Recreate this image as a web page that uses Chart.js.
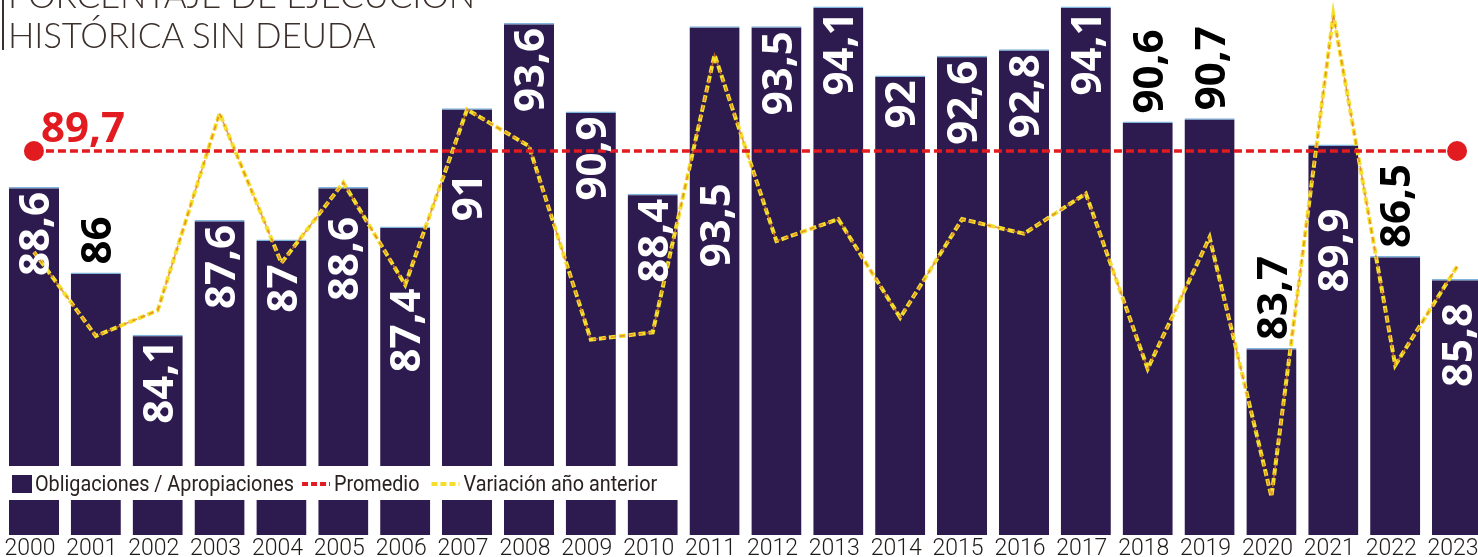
<!DOCTYPE html>
<html>
<head>
<meta charset="utf-8">
<script src="https://cdn.jsdelivr.net/npm/chart.js@4.4.1/dist/chart.umd.min.js"></script>
<style>
  html, body { margin: 0; padding: 0; background: #ffffff; overflow: hidden; width: 1478px; height: 557px; }
  #wrap { position: relative; width: 1478px; height: 557px; overflow: hidden; background: #fff; }
  #c { position: absolute; left: 0; top: 0; }
  #title { position: absolute; left: 8px; top: -26px; font-family: Lato, sans-serif; font-weight: 300;
           font-size: 35px; line-height: 40px; color: #3b302b; white-space: nowrap; letter-spacing: -0.2px; }
  #tbar { position: absolute; left: 2px; top: 0; width: 2px; height: 50px; background: #3b302b; }
</style>
</head>
<body>
<div id="wrap">
  <canvas id="c" width="1490" height="557" style="width:1490px;height:557px"></canvas>
  <div id="tbar"></div>
  <div id="title">PORCENTAJE DE EJECUCIÓN<br>HISTÓRICA SIN DEUDA</div>
</div>
<script>
// ---- data ----
const years = ['2000','2001','2002','2003','2004','2005','2006','2007','2008','2009','2010','2011',
               '2012','2013','2014','2015','2016','2017','2018','2019','2020','2021','2022','2023'];
const ejecucion = [88.6, 86, 84.1, 87.6, 87, 88.6, 87.4, 91, 93.6, 90.9, 88.4, 93.5,
                   93.5, 94.1, 92, 92.6, 92.8, 94.1, 90.6, 90.7, 83.7, 89.9, 86.5, 85.8];
const variacion = [-0.3, -2.6, -1.9, 3.5, -0.6, 1.6, -1.2, 3.6, 2.6, -2.7, -2.5, 5.1,
                   0, 0.6, -2.1, 0.6, 0.2, 1.3, -3.5, 0.1, -7.0, 6.2, -3.4, -0.7];
const promedio = 89.7;
const seriesNames = ['Obligaciones / Apropiaciones', 'Promedio', 'Variación año anterior'];

// ---- label placement config ----
const outsideLabels = ['2001','2018','2019','2020','2022'];
const labelGap = { '2004': 25, '2005': 30, '2006': 62, '2007': 65, '2011': 157, '2021': 64, '2023': 24 };

const BAR = '#2d1b50';
const RED = '#e11b1f';
const YEL = '#f3df2c';

const valueLabels = {
  id: 'valueLabels',
  afterDatasetsDraw(chart) {
    const ctx = chart.ctx;
    const meta = chart.getDatasetMeta(3);
    const fs = 42;
    ctx.save();
    ctx.font = 'bold ' + fs + 'px "Open Sans", sans-serif';
    meta.data.forEach((bar, i) => {
      const txt = String(ejecucion[i]).replace('.', ',');
      const y = years[i];
      const outside = outsideLabels.includes(y);
      ctx.save();
      if (outside) {
        ctx.translate(bar.x, bar.y - 8);
        ctx.rotate(-Math.PI / 2);
        ctx.textAlign = 'left';
        ctx.fillStyle = '#000';
      } else {
        const g = labelGap[y] !== undefined ? labelGap[y] : 5;
        ctx.translate(bar.x, bar.y + g);
        ctx.rotate(-Math.PI / 2);
        ctx.textAlign = 'right';
        ctx.fillStyle = '#ffffff';
      }
      ctx.textBaseline = 'alphabetic';
      ctx.fillText(txt, 0, fs * 0.36);
      ctx.restore();
    });
    // average label
    const am = chart.getDatasetMeta(0);
    const p0 = am.data[0];
    ctx.font = 'bold 42px "Open Sans", sans-serif';
    ctx.fillStyle = RED;
    ctx.textAlign = 'left';
    ctx.textBaseline = 'alphabetic';
    ctx.fillText(String(promedio).replace('.', ','), p0.x + 7, p0.y - 9);
    ctx.restore();
  }
};

const legendBand = {
  id: 'legendBand',
  afterDatasetsDraw(chart) {
    const ctx = chart.ctx;
    ctx.save();
    ctx.fillStyle = '#ffffff';
    ctx.fillRect(0, 466, 685, 34);
    const cy = 484;
    ctx.font = '22px Roboto, sans-serif';
    ctx.textBaseline = 'middle';
    ctx.fillStyle = BAR;
    ctx.fillRect(12, 475, 20, 18);
    const drawText = (t, x) => {
      ctx.save();
      ctx.translate(x, cy + 1);
      ctx.scale(0.9, 1);
      ctx.fillStyle = '#2a2220';
      ctx.fillText(t, 0, 0);
      const w = ctx.measureText(t).width * 0.9;
      ctx.restore();
      return x + w;
    };
    let x = drawText(seriesNames[0], 35);
    x += 8;
    ctx.strokeStyle = RED; ctx.lineWidth = 4; ctx.setLineDash([6, 3]);
    ctx.beginPath(); ctx.moveTo(x, cy); ctx.lineTo(x + 28, cy); ctx.stroke();
    x = drawText(seriesNames[1], x + 32);
    x += 12;
    ctx.strokeStyle = YEL; ctx.lineWidth = 4; ctx.setLineDash([6, 3]);
    ctx.beginPath(); ctx.moveTo(x, cy); ctx.lineTo(x + 28, cy); ctx.stroke();
    drawText(seriesNames[2], x + 32);
    ctx.restore();
  }
};

const endDots = years.map((_, i) => (i === 0 || i === years.length - 1) ? 10 : 0);

new Chart(document.getElementById('c'), {
  data: {
    labels: years,
    datasets: [
      { type: 'line', label: seriesNames[1], data: years.map(() => promedio), yAxisID: 'y',
        borderColor: RED, borderWidth: 3.5, borderDash: [8, 4], pointRadius: endDots,
        pointBackgroundColor: RED, pointBorderWidth: 0, order: 0 },
      { type: 'line', label: 'overlay', data: variacion, yAxisID: 'y2',
        borderColor: 'rgba(225,120,40,0.75)', borderWidth: 1.6, borderDash: [5, 4],
        pointRadius: 0, tension: 0, order: 1 },
      { type: 'line', label: seriesNames[2], data: variacion, yAxisID: 'y2',
        borderColor: YEL, borderWidth: 4, borderDash: [7, 3], pointRadius: 0, tension: 0, order: 2 },
      { type: 'bar', label: seriesNames[0], data: ejecucion, yAxisID: 'y',
        backgroundColor: BAR, borderColor: '#7fb4dc', borderWidth: { top: 1.5, left: 0, right: 0, bottom: 0 },
        borderSkipped: false, barPercentage: 0.81, categoryPercentage: 1, base: 78, order: 3 }
    ]
  },
  options: {
    responsive: false,
    animation: false,
    devicePixelRatio: 1,
    layout: { autoPadding: false, padding: { left: 3, right: 2, top: 0, bottom: 0 } },
    plugins: { legend: { display: false }, tooltip: { enabled: false }, title: { display: false } },
    scales: {
      x: {
        grid: { display: false, drawTicks: false }, border: { display: false },
        ticks: { color: '#1e1a18', font: { family: 'Roboto', size: 23, weight: 300 }, padding: 0,
                 labelOffset: -4, maxRotation: 0, autoSkip: false },
        afterFit(s) { s.height = 22; }
      },
      y: { display: false, min: 78, max: 94.3 },
      y2: { display: false, min: -8.05, max: 6.6 }
    }
  },
  plugins: [valueLabels, legendBand]
});
</script>
</body>
</html>
